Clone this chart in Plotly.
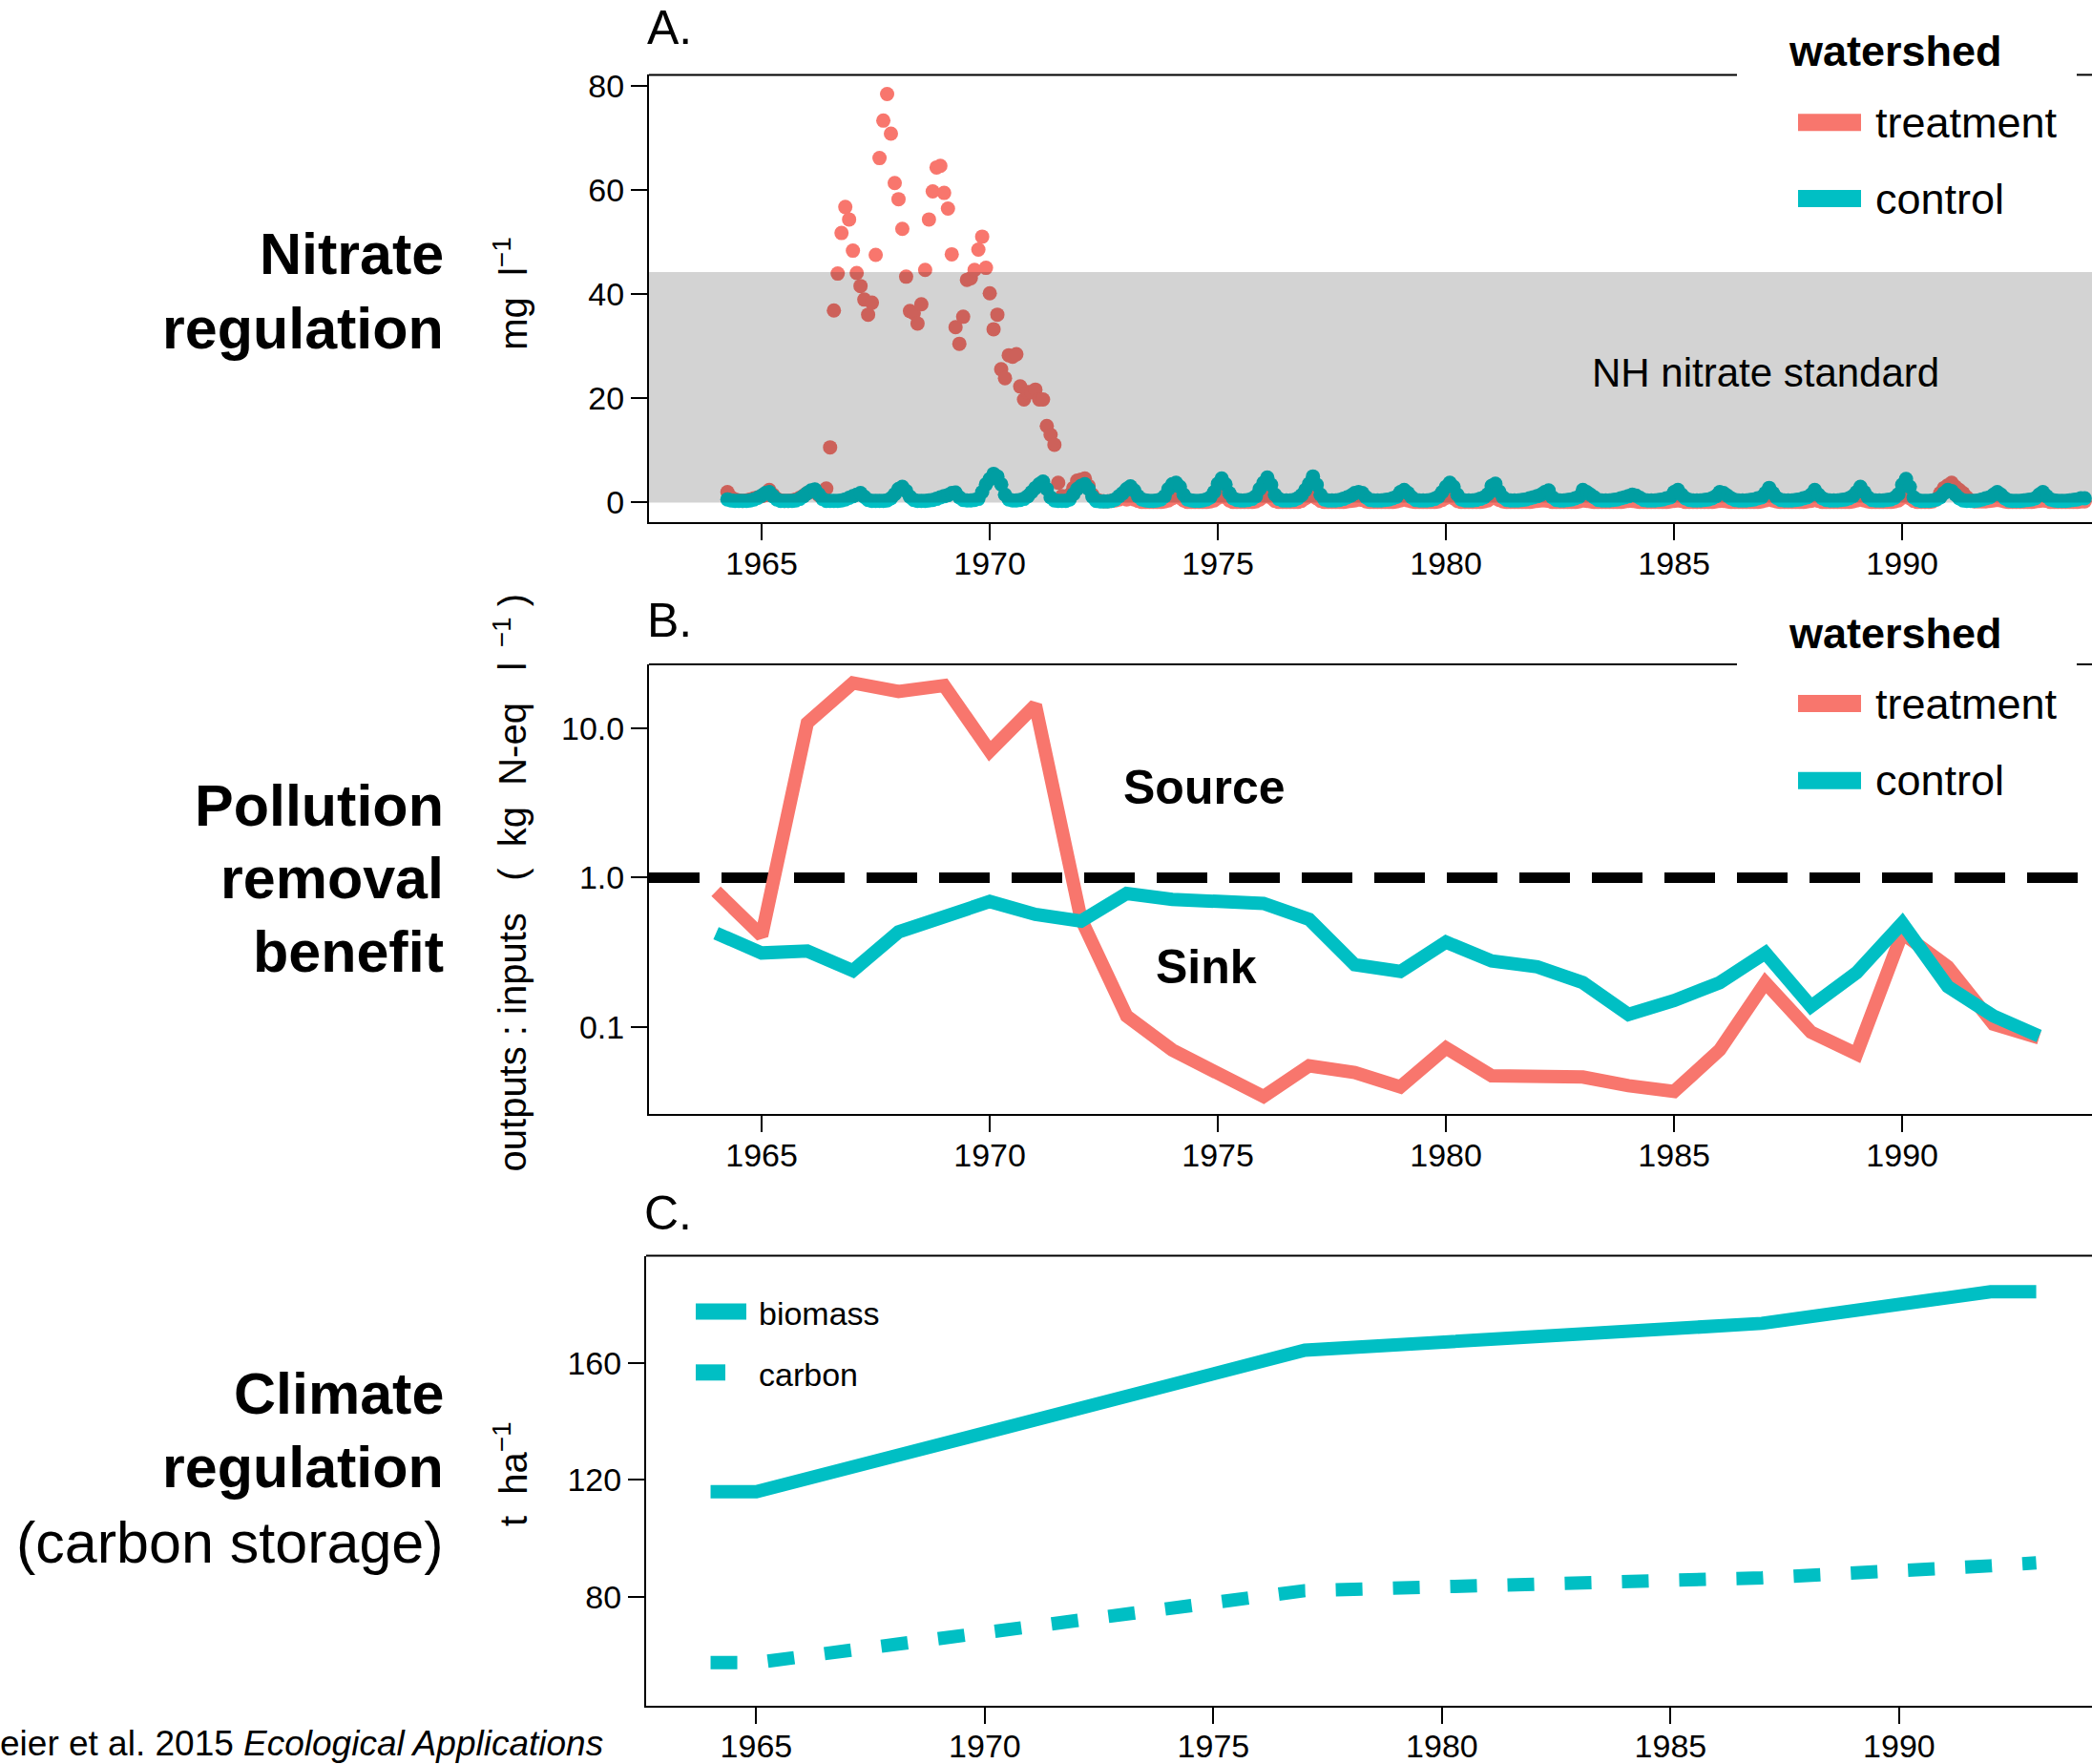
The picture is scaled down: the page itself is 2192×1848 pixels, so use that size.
import plotly.graph_objects as go

W, H = 2192, 1848
RED = "#F8766D"
CYAN = "#00BFC4"
FONT = "Liberation Sans, Arial, Helvetica, sans-serif"

# ---------------- Panel A: monthly nitrate (mg/l), Jan..Dec per year ----------------
nitrate_years = list(range(1964, 1995))
nitrate_treatment = [
    [None, None, None, 2.0, 1.0, 0.6, 0.4, 0.3, 0.4, 0.6, 0.8, 1.0],
    [1.2, 1.4, 2.4, 1.5, 0.7, 0.4, 0.3, 0.3, 0.4, 0.6, 0.9, 1.3],
    [1.8, 2.1, 2.4, 1.4, 1.0, 2.7, 10.6, 36.9, 44.0, 51.8, 56.8, 54.4],
    [48.4, 44.1, 41.6, 39.0, 36.1, 38.4, 47.6, 66.2, 73.4, 78.5, 70.9, 61.4],
    [58.3, 52.6, 43.4, 36.8, 36.4, 34.4, 38.1, 44.7, 54.4, 59.8, 64.4, 64.7],
    [59.5, 56.5, 47.7, 33.7, 30.5, 35.7, 42.8, 43.1, 44.7, 48.6, 51.1, 45.1],
    [40.2, 33.3, 36.1, 25.6, 23.9, 28.3, 28.0, 28.5, 22.3, 19.8, 21.2, 21.2],
    [21.7, 19.8, 19.8, 14.7, 13.0, 11.1, 3.8, 1.2, 0.8, 1.5, 2.8, 4.2],
    [4.4, 4.6, 3.2, 1.5, 0.6, 0.3, 0.2, 0.2, 0.3, 0.4, 0.6, 0.9],
    [0.6, 0.8, 0.6, 0.3, 0.1, 0.1, 0.1, 0.1, 0.1, 0.1, 0.2, 0.4],
    [0.8, 1.1, 0.9, 0.4, 0.1, 0.1, 0.1, 0.1, 0.1, 0.1, 0.2, 0.4],
    [0.9, 1.3, 1.0, 0.4, 0.1, 0.1, 0.1, 0.1, 0.1, 0.1, 0.2, 0.6],
    [1.1, 1.4, 0.9, 0.3, 0.1, 0.1, 0.1, 0.1, 0.1, 0.1, 0.3, 0.8],
    [1.2, 1.5, 0.8, 0.3, 0.1, 0.1, 0.1, 0.1, 0.1, 0.1, 0.2, 0.3],
    [0.4, 0.6, 0.5, 0.2, 0.1, 0.1, 0.1, 0.1, 0.1, 0.1, 0.1, 0.2],
    [0.4, 0.6, 0.4, 0.2, 0.1, 0.1, 0.1, 0.1, 0.1, 0.1, 0.2, 0.5],
    [0.9, 1.2, 0.8, 0.3, 0.1, 0.1, 0.1, 0.1, 0.1, 0.1, 0.2, 0.4],
    [0.9, 0.8, 0.5, 0.2, 0.1, 0.1, 0.1, 0.1, 0.1, 0.1, 0.1, 0.2],
    [0.3, 0.4, 0.4, 0.3, 0.1, 0.1, 0.1, 0.1, 0.1, 0.1, 0.1, 0.2],
    [0.4, 0.3, 0.2, 0.1, 0.1, 0.1, 0.1, 0.1, 0.1, 0.1, 0.1, 0.2],
    [0.3, 0.3, 0.2, 0.1, 0.1, 0.1, 0.1, 0.1, 0.1, 0.1, 0.1, 0.2],
    [0.3, 0.4, 0.3, 0.1, 0.1, 0.1, 0.1, 0.1, 0.1, 0.1, 0.1, 0.2],
    [0.3, 0.3, 0.2, 0.1, 0.1, 0.1, 0.1, 0.1, 0.1, 0.1, 0.1, 0.2],
    [0.4, 0.6, 0.4, 0.2, 0.1, 0.1, 0.1, 0.1, 0.1, 0.1, 0.1, 0.2],
    [0.3, 0.5, 0.3, 0.1, 0.1, 0.1, 0.1, 0.1, 0.1, 0.1, 0.1, 0.2],
    [0.4, 0.6, 0.4, 0.2, 0.1, 0.1, 0.1, 0.1, 0.1, 0.1, 0.2, 0.4],
    [0.9, 1.2, 0.8, 0.3, 0.1, 0.1, 0.1, 0.1, 0.2, 0.6, 1.8, 2.8],
    [3.3, 3.8, 3.0, 2.4, 1.8, 1.0, 0.4, 0.2, 0.2, 0.2, 0.2, 0.3],
    [0.4, 0.5, 0.4, 0.2, 0.1, 0.1, 0.1, 0.1, 0.1, 0.1, 0.1, 0.2],
    [0.3, 0.4, 0.3, 0.1, 0.1, 0.1, 0.1, 0.1, 0.1, 0.1, 0.1, 0.2],
    [0.2],
]
nitrate_control = [
    [None, None, None, 0.6, 0.4, 0.3, 0.3, 0.3, 0.3, 0.4, 0.6, 0.9],
    [1.3, 1.8, 2.0, 1.2, 0.6, 0.3, 0.3, 0.3, 0.3, 0.4, 0.7, 1.2],
    [1.8, 2.3, 2.5, 1.6, 0.7, 0.3, 0.3, 0.3, 0.3, 0.4, 0.6, 0.9],
    [1.2, 1.5, 1.8, 1.1, 0.5, 0.3, 0.3, 0.3, 0.3, 0.4, 0.8, 1.6],
    [2.6, 3.0, 2.2, 1.1, 0.5, 0.3, 0.3, 0.3, 0.4, 0.5, 0.7, 1.0],
    [1.2, 1.4, 1.8, 1.9, 1.0, 0.5, 0.4, 0.4, 0.5, 0.7, 2.0, 3.5],
    [4.5, 5.5, 5.0, 3.5, 1.5, 0.6, 0.4, 0.4, 0.5, 0.7, 1.2, 2.0],
    [2.8, 3.5, 4.0, 2.6, 1.0, 0.4, 0.3, 0.3, 0.3, 0.6, 1.6, 2.6],
    [3.2, 3.5, 2.6, 1.1, 0.3, 0.2, 0.2, 0.2, 0.3, 0.6, 1.2, 1.8],
    [2.6, 3.1, 2.3, 1.2, 0.6, 0.4, 0.3, 0.3, 0.4, 0.6, 1.2, 2.6],
    [3.5, 3.8, 3.0, 1.5, 0.6, 0.4, 0.3, 0.3, 0.4, 0.6, 1.0, 2.0],
    [3.6, 4.6, 3.5, 1.8, 0.8, 0.5, 0.4, 0.4, 0.5, 0.7, 1.2, 2.6],
    [3.8, 4.8, 3.4, 1.5, 0.7, 0.4, 0.4, 0.4, 0.5, 0.8, 1.4, 2.4],
    [3.6, 5.0, 3.4, 1.5, 0.6, 0.4, 0.4, 0.4, 0.5, 0.7, 1.0, 1.3],
    [1.8, 2.0, 1.8, 1.0, 0.5, 0.4, 0.4, 0.4, 0.5, 0.6, 0.8, 1.1],
    [2.0, 2.4, 1.8, 1.0, 0.5, 0.4, 0.4, 0.4, 0.5, 0.7, 1.1, 2.0],
    [3.0, 3.8, 3.0, 1.5, 0.6, 0.4, 0.4, 0.4, 0.5, 0.7, 1.0, 1.6],
    [3.2, 3.6, 2.1, 1.0, 0.5, 0.4, 0.4, 0.4, 0.5, 0.6, 0.8, 1.0],
    [1.2, 1.5, 2.0, 2.3, 1.0, 0.5, 0.4, 0.4, 0.5, 0.6, 0.8, 1.1],
    [2.4, 2.0, 1.5, 1.0, 0.5, 0.4, 0.4, 0.4, 0.5, 0.6, 0.8, 1.0],
    [1.2, 1.5, 1.3, 0.9, 0.5, 0.4, 0.4, 0.4, 0.5, 0.6, 0.8, 1.0],
    [2.0, 2.4, 1.5, 0.8, 0.5, 0.4, 0.4, 0.4, 0.5, 0.6, 0.8, 1.2],
    [2.0, 1.8, 1.3, 0.8, 0.5, 0.4, 0.4, 0.4, 0.5, 0.6, 0.8, 1.0],
    [1.8, 2.8, 1.8, 0.9, 0.5, 0.4, 0.4, 0.4, 0.5, 0.6, 0.8, 1.0],
    [1.5, 2.4, 1.5, 0.8, 0.5, 0.4, 0.4, 0.4, 0.5, 0.6, 0.8, 1.2],
    [2.0, 3.0, 2.0, 1.0, 0.5, 0.4, 0.4, 0.4, 0.5, 0.6, 0.9, 1.6],
    [3.4, 4.5, 3.0, 1.0, 0.5, 0.3, 0.3, 0.3, 0.4, 0.6, 1.0, 1.8],
    [2.4, 2.2, 1.5, 0.8, 0.4, 0.3, 0.3, 0.3, 0.4, 0.6, 0.8, 1.0],
    [1.5, 2.0, 1.5, 0.8, 0.4, 0.3, 0.3, 0.3, 0.4, 0.5, 0.6, 0.8],
    [1.5, 2.0, 1.2, 0.6, 0.4, 0.3, 0.3, 0.3, 0.4, 0.5, 0.6, 0.8],
    [0.8],
]
nitrate_standard = 44.3  # NH drinking-water nitrate standard, mg/l

# ---------------- Panel B: annual outputs:inputs ratio ----------------
ratio_years = list(range(1964, 1994))
ratio_treatment = [0.81, 0.41, 10.8, 20.0, 17.5, 19.2, 7.0, 14.2, 0.53, 0.119,
                   0.0706, 0.049, 0.0345, 0.0554, 0.050, 0.040, 0.0728, 0.0475, 0.0461, 0.0466,
                   0.0408, 0.0373, 0.0706, 0.199, 0.093, 0.0665, 0.426, 0.254, 0.105, 0.085]
ratio_control = [0.426, 0.314, 0.324, 0.239, 0.434, 0.544, 0.693, 0.568, 0.512, 0.784,
                 0.715, 0.694, 0.673, 0.527, 0.262, 0.236, 0.371, 0.278, 0.254, 0.199,
                 0.122, 0.151, 0.199, 0.314, 0.138, 0.232, 0.497, 0.187, 0.119, 0.0875]

# ---------------- Panel C: storage (t/ha) ----------------
storage_years = [1964, 1965, 1977, 1987, 1992, 1993]
biomass = [115.9, 115.9, 164.3, 173.5, 184.3, 184.3]
carbon = [57.5, 57.5, 82.1, 86.5, 90.6, 91.6]

year_ticks = [1965, 1970, 1975, 1980, 1985, 1990]

# target-pixel helpers (vertical positions compensate the page offset seen in the render)
VS = 0.99142
VOFF = 6.5


def px(x):
    return x / W


def py(y):
    return 1 - (y / VS - VOFF) / H


def expand(rows):
    xs, ys = [], []
    for yr, row in zip(nitrate_years, rows):
        for k, v in enumerate(row):
            if v is not None:
                xs.append(yr + k / 12)
                ys.append(v)
    return xs, ys


tx, ty = expand(nitrate_treatment)
cx, cy = expand(nitrate_control)

fig = go.Figure()

fig.add_trace(go.Scatter(x=tx, y=ty, mode="markers", xaxis="x", yaxis="y",
                         marker=dict(size=15, color=RED, line=dict(width=0)), showlegend=False))
fig.add_trace(go.Scatter(x=cx, y=cy, mode="markers", xaxis="x", yaxis="y",
                         marker=dict(size=15, color=CYAN, line=dict(width=0)), showlegend=False))

xr_ab = [1962.53, 1994.16]
fig.add_trace(go.Scatter(x=xr_ab, y=[1, 1], mode="lines", xaxis="x2", yaxis="y2",
                         line=dict(color="black", width=11, dash="53px,23px"), showlegend=False))
fig.add_trace(go.Scatter(x=ratio_years, y=ratio_treatment, mode="lines", xaxis="x2", yaxis="y2",
                         line=dict(color=RED, width=14), showlegend=False))
fig.add_trace(go.Scatter(x=ratio_years, y=ratio_control, mode="lines", xaxis="x2", yaxis="y2",
                         line=dict(color=CYAN, width=14), showlegend=False))

fig.add_trace(go.Scatter(x=storage_years, y=biomass, mode="lines", xaxis="x3", yaxis="y3",
                         line=dict(color=CYAN, width=14), showlegend=False))
fig.add_trace(go.Scatter(x=storage_years, y=carbon, mode="lines", xaxis="x3", yaxis="y3",
                         line=dict(color=CYAN, width=14, dash="28px,32px"), showlegend=False))

tickfont = dict(family=FONT, size=34, color="black")
common = dict(showgrid=False, zeroline=False, showline=True, linecolor="black", linewidth=2,
              ticks="outside", ticklen=17, tickwidth=2, tickcolor="black", tickfont=tickfont)
xcommon = dict(common, ticklabelstandoff=-5)

fig.update_layout(
    width=W, height=H, margin=dict(l=0, r=0, t=0, b=0),
    paper_bgcolor="white", plot_bgcolor="white", showlegend=False,
    font=dict(family=FONT, color="black"),
    xaxis=dict(domain=[px(680), 1], range=xr_ab, anchor="y", tickvals=year_ticks, **xcommon),
    yaxis=dict(domain=[py(548), py(78)], range=[-3.84, 82.2], anchor="x",
               tickvals=[0, 20, 40, 60, 80], **common),
    xaxis2=dict(domain=[px(680), 1], range=xr_ab, anchor="y2", tickvals=year_ticks, **xcommon),
    yaxis2=dict(domain=[py(1169), py(697)], type="log", range=[-1.578, 1.4247], anchor="x2",
                tickvals=[0.1, 1, 10], ticktext=["0.1", "1.0", "10.0"], **common),
    xaxis3=dict(domain=[px(677), 1], range=[1962.59, 1994.22], anchor="y3", tickvals=year_ticks, **xcommon),
    yaxis3=dict(domain=[py(1790), py(1318)], range=[42.9, 196.6], anchor="x3",
                tickvals=[80, 120, 160], **common),
)

shapes = []
# NH nitrate standard band (translucent overlay drawn on top of the points)
shapes.append(dict(type="rect", xref="paper", yref="y", x0=px(680), x1=1, y0=0, y1=nitrate_standard,
                   fillcolor="rgba(0,0,0,0.1725)", line=dict(width=0), layer="above"))
# top borders (with legend gaps)
for ytop in (78, 697):
    shapes.append(dict(type="line", xref="paper", yref="paper", x0=px(680), x1=px(1820),
                       y0=py(ytop), y1=py(ytop), line=dict(color="black", width=2)))
    shapes.append(dict(type="line", xref="paper", yref="paper", x0=px(2176), x1=1,
                       y0=py(ytop), y1=py(ytop), line=dict(color="black", width=2)))
shapes.append(dict(type="line", xref="paper", yref="paper", x0=px(677), x1=1,
                   y0=py(1318), y1=py(1318), line=dict(color="black", width=2)))


def key(x0, x1, y0, y1, color):
    shapes.append(dict(type="rect", xref="paper", yref="paper", x0=px(x0), x1=px(x1),
                       y0=py(y1), y1=py(y0), fillcolor=color, line=dict(width=0)))


key(1884, 1950, 119, 137, RED)
key(1884, 1950, 199, 217, CYAN)
key(1884, 1950, 729, 747, RED)
key(1884, 1950, 810, 828, CYAN)
key(729, 782, 1368, 1385, CYAN)
key(729, 760, 1432, 1449, CYAN)

annotations = []


def txt(text, x, y, size, xanchor="left", yanchor="middle", bold=False, angle=0):
    if bold:
        text = "<b>" + text + "</b>"
    annotations.append(dict(text=text, xref="paper", yref="paper", x=px(x), y=py(y),
                            xanchor=xanchor, yanchor=yanchor, showarrow=False, textangle=angle,
                            font=dict(family=FONT, size=size, color="black")))


# panel letters
txt("A.", 676, 28, 50)
txt("B.", 676, 651, 50)
txt("C.", 673, 1273, 50)

# legends
txt("watershed", 1872, 53, 45, bold=True)
txt("treatment", 1963, 128, 45)
txt("control", 1963, 208, 45)
txt("watershed", 1872, 664, 45, bold=True)
txt("treatment", 1963, 739, 45)
txt("control", 1963, 819, 45)
txt("biomass", 793, 1379, 34)
txt("carbon", 793, 1443, 34)

# left service labels
for s, y in (("Nitrate", 266), ("regulation", 344)):
    txt(s, 467, y, 61, xanchor="right", bold=True)
for s, y in (("Pollution", 845), ("removal", 922), ("benefit", 999)):
    txt(s, 467, y, 61, xanchor="right", bold=True)
for s, y in (("Climate", 1463), ("regulation", 1540)):
    txt(s, 467, y, 61, xanchor="right", bold=True)
txt("(carbon storage)", 467, 1619, 61, xanchor="right")

# y axis titles
txt("mg&nbsp;&nbsp;l<sup>\u22121</sup>", 535, 308, 40, xanchor="center", angle=-90)
txt("outputs : inputs&nbsp;&nbsp; (&nbsp;&nbsp;kg&nbsp; N-eq&nbsp;&nbsp; l<sup>&nbsp;&nbsp;\u22121</sup>&nbsp;)",
    535, 926, 40, xanchor="center", angle=-90)
txt("t&nbsp;&nbsp;ha<sup>\u22121</sup>", 535, 1547, 40, xanchor="center", angle=-90)

# citation (cut at the left edge in the reference)
annotations.append(dict(text="eier et al. 2015 <i>Ecological Applications</i>", xref="paper", yref="paper",
                        x=px(-2), y=py(1830), xanchor="left", yanchor="middle", showarrow=False,
                        font=dict(family=FONT, size=37, color="black")))

# in-plot labels (data coordinates; log axis uses log10 values)
annotations.append(dict(text="NH nitrate standard", xref="x", yref="y", x=1987.0, y=25,
                        showarrow=False, font=dict(family=FONT, size=42, color="black")))
annotations.append(dict(text="<b>Source</b>", xref="x2", yref="y2", x=1974.7, y=0.6,
                        showarrow=False, font=dict(family=FONT, size=50, color="black")))
annotations.append(dict(text="<b>Sink</b>", xref="x2", yref="y2", x=1974.75, y=-0.595,
                        showarrow=False, font=dict(family=FONT, size=50, color="black")))

fig.update_layout(shapes=shapes, annotations=annotations)
fig.write_html("out.html")
